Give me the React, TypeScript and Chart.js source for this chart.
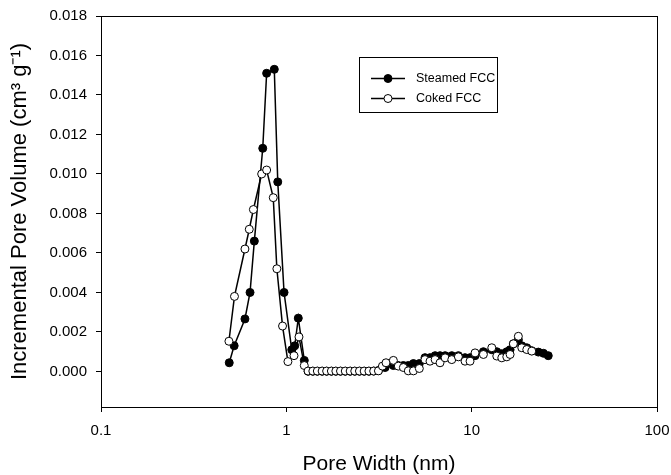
import { useEffect, useRef } from 'react';
import { Chart, registerables } from 'chart.js';
Chart.register(...registerables);

const seriesLabels = ['Steamed FCC', 'Coked FCC'];

const steamedX = [
  0.492, 0.523, 0.598, 0.637, 0.672, 0.746, 0.783, 0.861, 0.899, 0.972, 1.07, 1.11, 1.16, 1.25,
  1.31, 1.39, 1.47, 1.56, 1.65, 1.75, 1.85, 1.96, 2.08, 2.21, 2.34, 2.48, 2.63, 2.79, 2.96, 3.14,
  3.41, 3.78, 4.02, 4.28, 4.55, 4.85, 5.22, 5.6, 5.96, 6.35, 6.75, 7.19, 7.81, 8.48, 9.21, 9.8,
  10.43, 11.57, 12.84, 13.66, 14.54, 15.47, 16.12, 16.79, 17.86, 18.64, 19.83, 21.1, 22.9, 24.4, 25.9,
];
const steamedY = [
  0.00044, 0.0013, 0.00266, 0.004, 0.0066, 0.0113, 0.0151, 0.0153, 0.0096, 0.004, 0.0011, 0.0013, 0.0027, 0.00056,
  0.00001, 0.00001, 0.00001, 0.00001, 0.00001, 0.00001, 0.00001, 0.00001, 0.00001, 0.00001, 0.00001, 0.00001, 0.00001, 0.00001, 0.00002, 0.00005,
  0.0002, 0.0003, 0.0003, 0.0003, 0.0003, 0.0004, 0.0004, 0.0007, 0.0007, 0.0008, 0.0008, 0.0008, 0.0008, 0.0008, 0.0007, 0.0007,
  0.0008, 0.001, 0.0011, 0.001, 0.0009, 0.001, 0.0011, 0.0014, 0.0016, 0.0013, 0.0012, 0.00105, 0.00098, 0.00092, 0.0008,
];

const cokedX = [
  0.49, 0.525, 0.598, 0.631, 0.664, 0.736, 0.783, 0.85, 0.889, 0.954, 1.02, 1.1, 1.17, 1.25,
  1.31, 1.39, 1.47, 1.56, 1.65, 1.75, 1.85, 1.96, 2.08, 2.21, 2.34, 2.48, 2.63, 2.79, 2.96, 3.14,
  3.3, 3.45, 3.78, 4.02, 4.28, 4.55, 4.85, 5.22, 5.6, 5.96, 6.35, 6.75, 7.19, 7.81, 8.48, 9.21, 9.8,
  10.43, 11.57, 12.84, 13.66, 14.54, 15.47, 16.12, 16.79, 17.86, 18.64, 19.83, 21.1,
];
const cokedY = [
  0.00153, 0.0038, 0.0062, 0.0072, 0.0082, 0.01, 0.0102, 0.0088, 0.0052, 0.0023, 0.0005, 0.0008, 0.00175, 0.0003,
  0.00002, 0.00002, 0.00002, 0.00002, 0.00002, 0.00002, 0.00002, 0.00002, 0.00002, 0.00002, 0.00002, 0.00002, 0.00002, 0.00002, 0.00002, 0.00003,
  0.00027, 0.00044, 0.00056, 0.00027, 0.0002, 0.00003, 0.00003, 0.00015, 0.0006, 0.00052, 0.0006, 0.00044, 0.00069, 0.0006, 0.00074, 0.00052, 0.00052,
  0.00094, 0.00086, 0.0012, 0.00078, 0.00069, 0.00074, 0.00086, 0.0014, 0.00178, 0.0012, 0.00111, 0.00103,
];

const xTickValues = [0.1, 1, 10, 100];
const yTickValues = [0, 0.002, 0.004, 0.006, 0.008, 0.01, 0.012, 0.014, 0.016, 0.018];

const FONT = "'Liberation Sans', Arial, Helvetica, sans-serif";

const frameAndLegend = {
  id: 'frameAndLegend',
  beforeDatasetsDraw(chart: any) {
    const { ctx, chartArea } = chart;
    ctx.save();
    ctx.strokeStyle = '#000';
    ctx.lineWidth = 1;
    ctx.strokeRect(
      Math.round(chartArea.left) + 0.5,
      Math.round(chartArea.top) + 0.5,
      Math.round(chartArea.right - chartArea.left),
      Math.round(chartArea.bottom - chartArea.top)
    );
    ctx.restore();
  },
  afterDraw(chart: any) {
    const { ctx } = chart;
    ctx.save();
    ctx.strokeStyle = '#000';
    ctx.lineWidth = 1;
    ctx.strokeRect(359.5, 57.5, 138, 55);
    const rows = [78.5, 98.5];
    chart.data.datasets.forEach((ds: any, i: number) => {
      const y = rows[i];
      ctx.beginPath();
      ctx.lineWidth = 1.5;
      ctx.strokeStyle = '#000';
      ctx.moveTo(371, y);
      ctx.lineTo(405, y);
      ctx.stroke();
      ctx.beginPath();
      ctx.lineWidth = 1;
      ctx.arc(388, y, 4, 0, Math.PI * 2);
      ctx.fillStyle = ds.pointBackgroundColor;
      ctx.fill();
      ctx.stroke();
      ctx.fillStyle = '#000';
      ctx.font = `12.5px ${FONT}`;
      ctx.textBaseline = 'middle';
      ctx.textAlign = 'left';
      ctx.fillText(ds.label, 416, y);
    });
    ctx.restore();
  },
};

export default function App() {
  const ref = useRef<HTMLCanvasElement | null>(null);
  useEffect(() => {
    document.body.style.margin = '0';
    if (!ref.current) return;
    const chart = new Chart(ref.current, {
      type: 'line',
      data: {
        datasets: [
          {
            label: seriesLabels[0],
            data: steamedX.map((x, i) => ({ x, y: steamedY[i] })),
            borderColor: '#000',
            borderWidth: 1.5,
            pointRadius: 4,
            pointBorderWidth: 1,
            pointBackgroundColor: '#000',
            pointBorderColor: '#000',
            tension: 0,
            order: 2,
          },
          {
            label: seriesLabels[1],
            data: cokedX.map((x, i) => ({ x, y: cokedY[i] })),
            borderColor: '#000',
            borderWidth: 1.5,
            pointRadius: 4,
            pointBorderWidth: 1,
            pointBackgroundColor: '#fff',
            pointBorderColor: '#000',
            tension: 0,
            order: 1,
          },
        ] as any,
      },
      options: {
        animation: false,
        responsive: false,
        layout: { padding: { top: 16, right: 14, left: 0, bottom: 0 } },
        plugins: { legend: { display: false }, tooltip: { enabled: false } },
        scales: {
          x: {
            type: 'logarithmic',
            min: 0.1,
            max: 100,
            afterBuildTicks: (scale: any) => {
              scale.ticks = xTickValues.map((v) => ({ value: v, major: true }));
            },
            afterFit: (scale: any) => {
              scale.height = 68;
              scale.paddingLeft = 0;
              scale.paddingRight = 0;
            },
            ticks: {
              autoSkip: false,
              maxRotation: 0,
              padding: 10,
              color: '#000',
              font: { family: FONT, size: 15 },
              callback: (v: any) => String(v),
            },
            grid: { display: true, drawOnChartArea: false, drawTicks: true, tickLength: 5, color: '#000' },
            border: { display: false },
            title: {
              display: true,
              text: 'Pore Width (nm)',
              color: '#000',
              font: { family: FONT, size: 21, lineHeight: 1 },
              padding: { top: 0, bottom: 0 },
            },
          },
          y: {
            type: 'linear',
            min: -0.0018,
            max: 0.018,
            afterBuildTicks: (scale: any) => {
              scale.ticks = yTickValues.map((v) => ({ value: v }));
            },
            afterFit: (scale: any) => {
              scale.width = 101;
              scale.paddingTop = 0;
              scale.paddingBottom = 0;
            },
            ticks: {
              autoSkip: false,
              padding: 9,
              color: '#000',
              font: { family: FONT, size: 15 },
              callback: (v: any) => Number(v).toFixed(3),
            },
            grid: { display: true, drawOnChartArea: false, drawTicks: true, tickLength: 5, color: '#000' },
            border: { display: false },
            title: {
              display: true,
              text: 'Incremental Pore Volume (cm\u00B3 g\u207B\u00B9)',
              color: '#000',
              font: { family: FONT, size: 22, lineHeight: 1 },
              padding: { top: 9, bottom: 0 },
            },
          },
        },
      },
      plugins: [frameAndLegend],
    } as any);
    return () => chart.destroy();
  }, []);
  return (
    <div style={{ width: 671, height: 475 }}>
      <canvas ref={ref} width={671} height={475} style={{ display: 'block', width: 671, height: 475 }} />
    </div>
  );
}
